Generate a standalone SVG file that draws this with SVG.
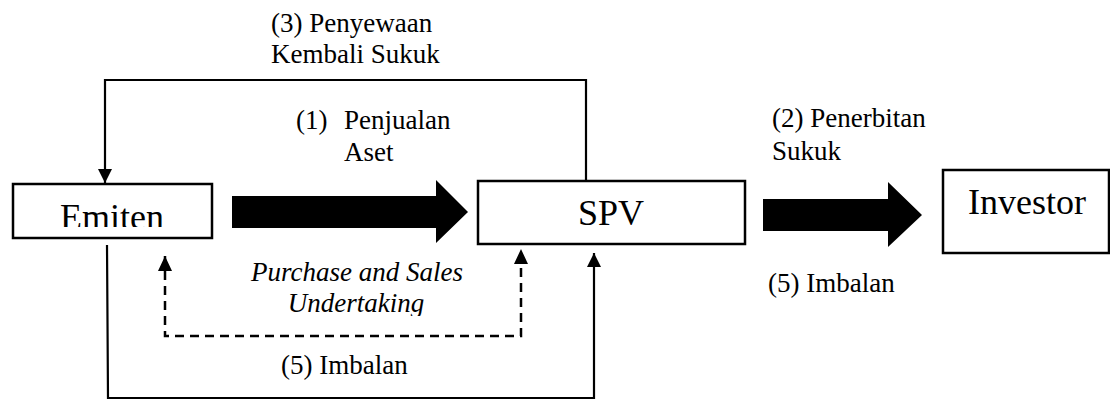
<svg xmlns="http://www.w3.org/2000/svg" width="1110" height="402" viewBox="0 0 1110 402">
<style>
.box{fill:#fff;stroke:#000;stroke-width:2.5}
.lbl{font-family:'Liberation Serif','Times New Roman',serif;font-size:27px;fill:#000}
.it{font-style:italic}
.node{font-family:'Liberation Serif','Times New Roman',serif;font-size:36px;fill:#000}
.ln{fill:none;stroke:#000;stroke-width:2.2}
.dash{fill:none;stroke:#000;stroke-width:2.5;stroke-dasharray:9 6}
.big{fill:#000}
</style>
<defs>
<marker id="ah" markerWidth="14" markerHeight="14" refX="14" refY="7" orient="auto" markerUnits="userSpaceOnUse" viewBox="0 0 14 14">
<path d="M0,0 L14,7 L0,14 Z" fill="#000"/>
</marker>
<clipPath id="cEm"><rect x="12" y="184" width="200" height="43"/></clipPath>
<clipPath id="cUn"><rect x="240" y="285" width="240" height="31"/></clipPath>
</defs>
<g id="labels">
<text class="lbl" x="271" y="32">(3) Penyewaan</text>
<text class="lbl" x="271" y="63">Kembali Sukuk</text>
<text class="lbl" x="296" y="129">(1)</text>
<text class="lbl" x="344" y="129">Penjualan</text>
<text class="lbl" x="344" y="161">Aset</text>
<text class="lbl" x="772" y="127">(2) Penerbitan</text>
<text class="lbl" x="772" y="160">Sukuk</text>
<text class="lbl" x="768" y="292">(5) Imbalan</text>
<text class="lbl" x="281" y="374">(5) Imbalan</text>
<text class="lbl it" x="357" y="281" text-anchor="middle">Purchase and Sales</text>
<text class="lbl it" x="356" y="312" text-anchor="middle" clip-path="url(#cUn)">Undertaking</text>
</g>
<g id="emiten">
<rect class="box" x="13" y="184" width="199" height="54"/>
<text class="node" x="112" y="229" text-anchor="middle" clip-path="url(#cEm)">Emiten</text>
</g>
<g id="spv">
<rect class="box" x="478" y="181" width="267" height="63"/>
<text class="node" x="611" y="225" text-anchor="middle">SPV</text>
</g>
<g id="investor">
<rect class="box" x="943" y="170" width="166" height="83"/>
<text class="node" x="1027" y="214" text-anchor="middle">Investor</text>
</g>
<g id="connectors">
<path class="big" d="M232,196 L436,196 L436,180 L468,212 L436,243 L436,228 L232,228 Z"/>
<path class="big" d="M763,199 L888,199 L888,182 L922,215 L888,247 L888,231 L763,231 Z"/>
<path class="ln" d="M586,181 L586,80 L105,80 L105,183" marker-end="url(#ah)"/>
<path class="ln" d="M107,245 L108,398 L594,398 L594,253" marker-end="url(#ah)"/>
<path class="dash" d="M165,256 L165,336 L521,336 L521,249"/>
<path d="M158,271 L165,256 L172,271 Z" fill="#000"/>
<path d="M514,264 L521,249 L528,264 Z" fill="#000"/>
</g>
</svg>
